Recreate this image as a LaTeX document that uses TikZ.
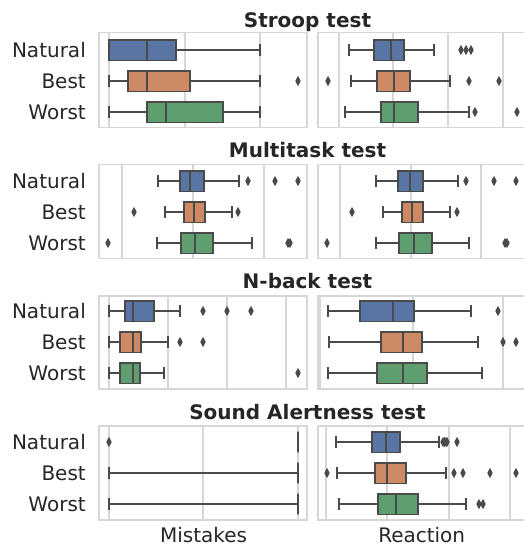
\documentclass[tikz,border=0pt]{standalone}
\usepackage{fontspec}
\setmainfont{DejaVu Sans}
\definecolor{bxblue}{HTML}{5875A4}
\definecolor{bxorange}{HTML}{CC8963}
\definecolor{bxgreen}{HTML}{5F9E6E}
\definecolor{edgegray}{HTML}{4A4A4A}
\definecolor{gridgray}{HTML}{D6D6D6}
\definecolor{txtgray}{HTML}{262626}
\tikzset{
  gridline/.style={draw=gridgray, line width=1.2pt},
  framebox/.style={draw=gridgray, line width=1.6pt},
  whisk/.style={draw=edgegray, line width=1.6pt},
  boxst/.style={draw=edgegray, line width=1.6pt},
  flierst/.style={fill=edgegray},
  lbl/.style={text=txtgray, font=\fontsize{20}{24}\selectfont, inner sep=0pt},
  ttl/.style={text=txtgray, font=\fontsize{20}{24}\selectfont\bfseries, inner sep=0pt, anchor=base}
}
% y, wlo, q1, med, q3, whi, colour
\newcommand\bxrow[7]{%
  \draw[whisk] (#2,#1) -- (#3,#1) (#5,#1) -- (#6,#1);
  \draw[whisk] (#2,#1-6) -- (#2,#1+6) (#6,#1-6) -- (#6,#1+6);
  \filldraw[boxst, fill=#7] (#3,#1-10.3) rectangle (#5,#1+10.3);
  \draw[whisk] (#4,#1-10.3) -- (#4,#1+10.3);
}
\newcommand\flier[2]{%
  \fill[flierst] (#1-2.7,#2) -- (#1,#2-5.2) -- (#1+2.7,#2) -- (#1,#2+5.2) -- cycle;
}
\newcommand\rowlabels[3]{%
  \node[lbl, anchor=base east] (nat#1) at (86,#1+7.3) {Natural};
  \node[lbl, anchor=base east] (bst#1) at (86,#2+7.3) {Best};
  \node[lbl, anchor=base east] (wst#1) at (86,#3+7.3) {Worst};
}
\begin{document}
\begin{tikzpicture}[x=1pt,y=-1pt]
\useasboundingbox (0,0) rectangle (524,547);
\clip (0,0) rectangle (524,547);

% ---------------- Panel 1: Stroop ----------------
\node[ttl] (t1) at (307.5,27) {Stroop test};
\foreach \gx in {109,185,260} \draw[gridline] (\gx,32.5) -- (\gx,127.3);
\foreach \gx in {339,393,448,503} \draw[gridline] (\gx,32.5) -- (\gx,127.3);
\draw[framebox] (99,32.5) rectangle (307,127.3);
\draw[framebox] (318,32.5) rectangle (540,127.3);
\rowlabels{50}{81}{112}
\bxrow{50}{109}{109}{147}{176}{260}{bxblue}
\bxrow{81}{109}{128}{147}{190}{260}{bxorange}
\flier{298}{81}
\bxrow{112}{109}{147}{166}{223}{260}{bxgreen}
\bxrow{50}{349}{374}{391}{404}{434}{bxblue}
\flier{461}{50}\flier{466}{50}\flier{471}{50}
\bxrow{81}{351}{377}{394}{410}{450}{bxorange}
\flier{328}{81}\flier{469}{81}\flier{499}{81}
\bxrow{112}{345}{381}{394}{418}{469}{bxgreen}
\flier{475}{112}\flier{517}{112}

% ---------------- Panel 2: Multitask ----------------
\node[ttl] (t2) at (307.5,157.5) {Multitask test};
\foreach \gx in {122,193,264} \draw[gridline] (\gx,164.3) -- (\gx,258.3);
\foreach \gx in {340,411,481} \draw[gridline] (\gx,164.3) -- (\gx,258.3);
\draw[framebox] (99,164.3) rectangle (307,258.3);
\draw[framebox] (318,164.3) rectangle (540,258.3);
\rowlabels{181}{212}{243}
\bxrow{181}{158}{180}{190}{204}{239}{bxblue}
\flier{248}{181}\flier{275}{181}\flier{298}{181}
\bxrow{212}{165}{184}{194}{205}{232}{bxorange}
\flier{134}{212}\flier{238}{212}
\bxrow{243}{157}{181}{195}{213}{252}{bxgreen}
\flier{108}{243}\flier{288}{243}\flier{290}{243}
\bxrow{181}{376}{398}{410}{423}{458}{bxblue}
\flier{466}{181}\flier{494}{181}\flier{516}{181}
\bxrow{212}{383}{402}{412}{423}{450}{bxorange}
\flier{352}{212}\flier{457}{212}
\bxrow{243}{376}{399}{414}{432}{469}{bxgreen}
\flier{327}{243}\flier{505}{243}\flier{507}{243}

% ---------------- Panel 3: N-back ----------------
\node[ttl] (t3) at (307.5,288) {N-back test};
\foreach \gx in {109,168,227,286} \draw[gridline] (\gx,295.7) -- (\gx,389);
\foreach \gx in {320,413,503} \draw[gridline] (\gx,295.7) -- (\gx,389);
\draw[framebox] (99,295.7) rectangle (307,389);
\draw[framebox] (318,295.7) rectangle (540,389);
\rowlabels{311}{342}{373}
\bxrow{311}{109}{125}{133}{154}{180}{bxblue}
\flier{203}{311}\flier{227}{311}\flier{251}{311}
\bxrow{342}{109}{120}{133}{141}{168}{bxorange}
\flier{180}{342}\flier{203}{342}
\bxrow{373}{109}{120}{133}{140}{164}{bxgreen}
\flier{298}{373}
\bxrow{311}{328}{360}{393}{414}{471}{bxblue}
\flier{498}{311}
\bxrow{342}{329}{381}{403}{422}{478}{bxorange}
\flier{503}{342}\flier{516}{342}
\bxrow{373}{328}{377}{403}{427}{482}{bxgreen}

% ---------------- Panel 4: Sound Alertness ----------------
\node[ttl] (t4) at (307.5,419) {Sound Alertness test};
\foreach \gx in {109,203,298} \draw[gridline] (\gx,426) -- (\gx,520);
\foreach \gx in {326,387,449,510} \draw[gridline] (\gx,426) -- (\gx,520);
\draw[framebox] (99,426) rectangle (307,520);
\draw[framebox] (318,426) rectangle (540,520);
\rowlabels{442}{473}{504}
\bxrow{442}{298}{298}{298}{298}{298}{bxblue}
\flier{109}{442}
\bxrow{473}{109}{298}{298}{298}{298}{bxorange}
\bxrow{504}{109}{298}{298}{298}{298}{bxgreen}
\bxrow{442}{336}{372}{386}{400}{439}{bxblue}
\flier{443}{442}\flier{444.5}{442}\flier{446}{442}\flier{447}{442}\flier{457}{442}
\bxrow{473}{337}{375}{387}{406}{446}{bxorange}
\flier{327}{473}\flier{454}{473}\flier{463}{473}\flier{490}{473}\flier{516}{473}
\bxrow{504}{339}{378}{396}{418}{466}{bxgreen}
\flier{479}{504}\flier{483}{504}

% ---------------- axis labels ----------------
\node[lbl, anchor=base] (xl1) at (203.5,542) {Mistakes};
\node[lbl, anchor=base] (xl2) at (421.7,542) {Reaction};
\end{tikzpicture}
\end{document}
